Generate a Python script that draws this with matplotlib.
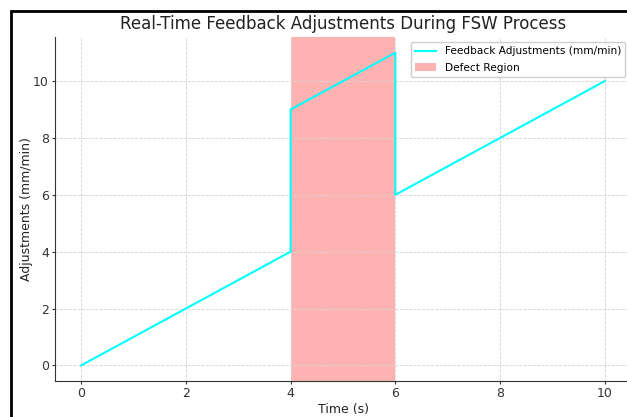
import matplotlib
matplotlib.use("Agg")
import matplotlib.pyplot as plt
from matplotlib.patches import Rectangle

# data
time = [0, 4, 4, 6, 6, 10]
adjust = [0, 4, 9, 11, 6, 10]
defect_start, defect_end = 4, 6
xticks = [0, 2, 4, 6, 8, 10]
yticks = [0, 2, 4, 6, 8, 10]

fig = plt.figure(figsize=(6.27, 4.17), dpi=100)
ax = fig.add_axes([55 / 627, 36 / 417, 576 / 627, 344 / 417])

ax.plot(time, adjust, color="cyan", lw=1.5, label="Feedback Adjustments (mm/min)")
ax.axvspan(defect_start, defect_end, color="red", alpha=0.3, lw=0, label="Defect Region")

ax.set_xlim(-0.5, 10.5)
ax.set_xticks(xticks)
ax.set_yticks(yticks)
ax.grid(True, ls="--", lw=0.6, color="#d5d5d5")
ax.spines["top"].set_visible(False)
ax.spines["right"].set_visible(False)
ax.tick_params(labelsize=9, colors="#333333", length=2.5, pad=2)
for s in ["left", "bottom"]:
    ax.spines[s].set_color("#333333")

ax.set_xlabel("Time (s)", fontsize=9, color="#222222", labelpad=2)
ax.set_ylabel("Adjustments (mm/min)", fontsize=9, color="#222222", labelpad=0)
ax.set_title("Real-Time Feedback Adjustments During FSW Process", fontsize=12, color="#222222", pad=6)
ax.legend(loc="upper right", fontsize=7.6, framealpha=1, edgecolor="#cccccc",
          bbox_to_anchor=(0.999, 1.0), labelspacing=0.6)

# black frame of the screenshot
fig.patches.append(Rectangle((11 / 627, -0.1), 1.2, 0.1 + 406 / 417, transform=fig.transFigure,
                             fill=False, lw=2, edgecolor="black"))

fig.savefig("out.png", dpi=100)
